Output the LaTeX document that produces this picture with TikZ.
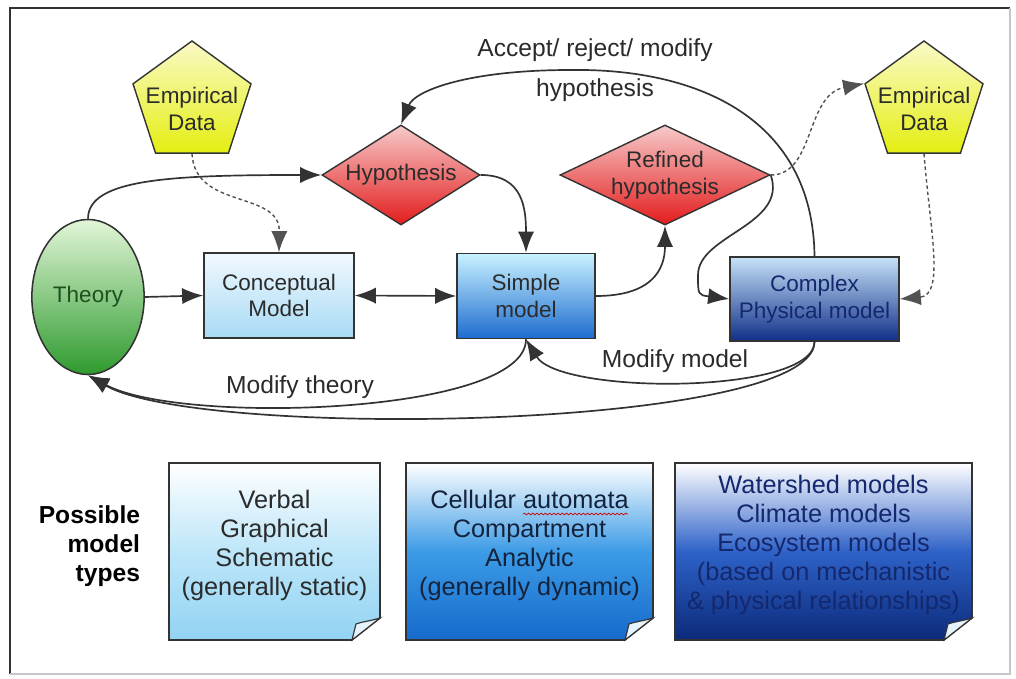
\documentclass[tikz,border=0pt]{standalone}
\usepackage{fontspec}
\setmainfont{Liberation Sans}
\usepackage{tikz}
\usetikzlibrary{shapes.geometric,arrows.meta,decorations.pathmorphing}

\definecolor{linegray}{HTML}{333333}
\definecolor{textgray}{HTML}{2B2B2B}
\definecolor{emptop}{HTML}{FAFAC8}
\definecolor{empbot}{HTML}{E4EE10}
\definecolor{hyptop}{HTML}{F7CACA}
\definecolor{hypbot}{HTML}{E31C1C}
\definecolor{theorytop}{HTML}{E2F6D8}
\definecolor{theorybot}{HTML}{2E9A2E}
\definecolor{concepttop}{HTML}{F2F9FF}
\definecolor{conceptbot}{HTML}{A6DAF4}
\definecolor{simpletop}{HTML}{C8F2FF}
\definecolor{simplebot}{HTML}{1E6CD0}
\definecolor{complextop}{HTML}{C6E2F8}
\definecolor{complexbot}{HTML}{102F88}
\definecolor{navytext}{HTML}{14286E}
\definecolor{noteamid}{HTML}{BDE6F9}
\definecolor{noteabot}{HTML}{92D3F3}
\definecolor{notebmid}{HTML}{3C9BE6}
\definecolor{notebbot}{HTML}{166ACB}
\definecolor{notecmid}{HTML}{2E62C8}
\definecolor{notecbot}{HTML}{0C2A7A}
\definecolor{flapcol}{HTML}{E6F3FC}

\begin{document}
\begin{tikzpicture}[x=0.025cm, y=0.025cm, >={Latex[length=15pt,width=11.5pt]},
	flow/.style={->, draw=linegray, line width=1.2pt},
	dataflow/.style={->, draw=linegray!85, line width=1pt, dash pattern=on 2.5pt off 2pt},
	modelbox/.style={rectangle, draw=linegray, line width=1.1pt, align=center, text=textgray, font=\fontsize{16}{19}\selectfont, minimum height=2.125cm},
	hypbox/.style={diamond, draw=linegray, line width=1pt, top color=hyptop, bottom color=hypbot, align=center, inner sep=0pt, text=textgray, font=\fontsize{16}{19}\selectfont},
	databox/.style={regular polygon, regular polygon sides=5, minimum size=3.1cm, inner sep=0pt, draw=linegray, line width=1pt, top color=emptop, bottom color=empbot},
	datatext/.style={align=center, text=textgray, font=\fontsize{16}{19}\selectfont},
	lbl/.style={align=center, text=textgray, font=\fontsize{17.5}{28}\selectfont},
	notebox/.style={draw=linegray, line width=1.1pt, top color=white},
	notetext/.style={align=center, font=\fontsize{18}{20.6}\selectfont}]
	\useasboundingbox (0,0) rectangle (1016,678);
	\draw[linegray, line width=1pt] (10,4) -- (10,670) -- (1010,670);
	\draw[gray!45, line width=0.8pt] (10,4) -- (1010,4) -- (1010,670);

	\node[ellipse, draw=linegray, line width=1.1pt, top color=theorytop, bottom color=theorybot, minimum width=2.5cm, minimum height=3.875cm, text={rgb,255:red,30;green,80;blue,30}, font=\fontsize{16}{19}\selectfont] (theory) at (88,381) {Theory};
	\node[modelbox, top color=concepttop, bottom color=conceptbot, minimum width=3.75cm] (concept) at (279,382.5) {Conceptual\\Model};
	\node[modelbox, top color=simpletop, bottom color=simplebot, minimum width=3.45cm] (simple) at (526,382) {Simple\\model};
	\node[modelbox, top color=complextop, bottom color=complexbot, minimum width=4.225cm, minimum height=2.1cm, text=navytext] (complex) at (814.5,379) {Complex\\Physical model};
	\node[hypbox, aspect=1.58, minimum width=3.95cm, minimum height=2.5cm] (hyp) at (401,503) {Hypothesis};
	\node[hypbox, aspect=2.1, minimum width=5.25cm, minimum height=2.5cm] (refined) at (665,503) {Refined\\hypothesis};
	\node[databox, label={[datatext, yshift=-4pt]center:Empirical\\Data}] (emp1) at (192,575) {};
	\node[databox, label={[datatext, yshift=-4pt]center:Empirical\\Data}] (emp2) at (924,575) {};

	\draw[flow] (theory.north) .. controls +(0,40) and +(-150,0) .. (hyp.west);
	\draw[flow] (hyp.east) .. controls +(42,0) and +(0,45) .. (simple.north);
	\draw[flow] (theory.east) -- (concept.west);
	\draw[flow, <->] (concept.east) -- (simple.west);
	\draw[flow] (simple.east) .. controls +(55,0) and +(0,-45) .. (refined.south);
	\draw[flow] (refined.east) .. controls (788,453) and (698,443) .. (698,403) .. controls (698,383) .. (complex.west);
	\draw[flow] (complex.north) .. controls (813,558) and (700,610) .. (570,608) .. controls (470,608) and (415,588) .. (hyp.north);
	\draw[flow] (complex.south) .. controls (814,283) and (560,283) .. (simple.south);
	\draw[flow] (simple.south) .. controls (526,263) and (180,253) .. (theory.south);
	\draw[flow] (complex.south) .. controls (814,248) and (200,238) .. (theory.south);
	\draw[dataflow] (emp1.south) .. controls (195,468) and (280,488) .. (concept.north);
	\draw[dataflow] (refined.east) .. controls (815,503) and (805,583) .. (emp2.corner 2);
	\draw[dataflow] (emp2.south) .. controls (930,448) and (945,383) .. (complex.east);

	\node[lbl] (accept) at (595,608) {Accept/ reject/ modify\\hypothesis};
	\node[lbl] (modmodel) at (675,317) {Modify model};
	\node[lbl] (modtheory) at (300,291) {Modify theory};

	\shadedraw[notebox, bottom color=noteabot, middle color=noteamid] (169,215) -- (380,215) -- (380,60) -- (352,38) -- (169,38) -- cycle;
	\filldraw[fill=flapcol, draw=linegray, line width=0.8pt] (380,60) .. controls (370,57) and (361,56) .. (356,54) -- (352,38) -- cycle;
	\shadedraw[notebox, bottom color=notebbot, middle color=notebmid] (406,215) -- (653,215) -- (653,60) -- (625,38) -- (406,38) -- cycle;
	\filldraw[fill=flapcol, draw=linegray, line width=0.8pt] (653,60) .. controls (643,57) and (634,56) .. (629,54) -- (625,38) -- cycle;
	\shadedraw[notebox, bottom color=notecbot, middle color=notecmid] (675,215) -- (972,215) -- (972,60) -- (944,38) -- (675,38) -- cycle;
	\filldraw[fill=flapcol, draw=linegray, line width=0.8pt] (972,60) .. controls (962,57) and (953,56) .. (948,54) -- (944,38) -- cycle;

	\node[notetext, text=textgray] (static) at (274.5,133) {Verbal\\Graphical\\Schematic\\(generally static)};
	\node[notetext, text={rgb,255:red,20;green,35;blue,60}] (dynamic) at (529.5,133) {Cellular automata\\Compartment\\Analytic\\(generally dynamic)};
	\node[notetext, text=navytext] (mechanistic) at (823.5,133) {Watershed models\\Climate models\\Ecosystem models\\(based on mechanistic\\\& physical relationships)};
	\node[anchor=east, align=right, text=black, font=\fontsize{17.5}{20.6}\selectfont\bfseries] (possible) at (145,132) {Possible\\model\\types};
	\draw[red!80!black, line width=0.5pt, decorate, decoration={snake, amplitude=0.6pt, segment length=3pt}] (523,164) -- (628,164);
\end{tikzpicture}
\end{document}
